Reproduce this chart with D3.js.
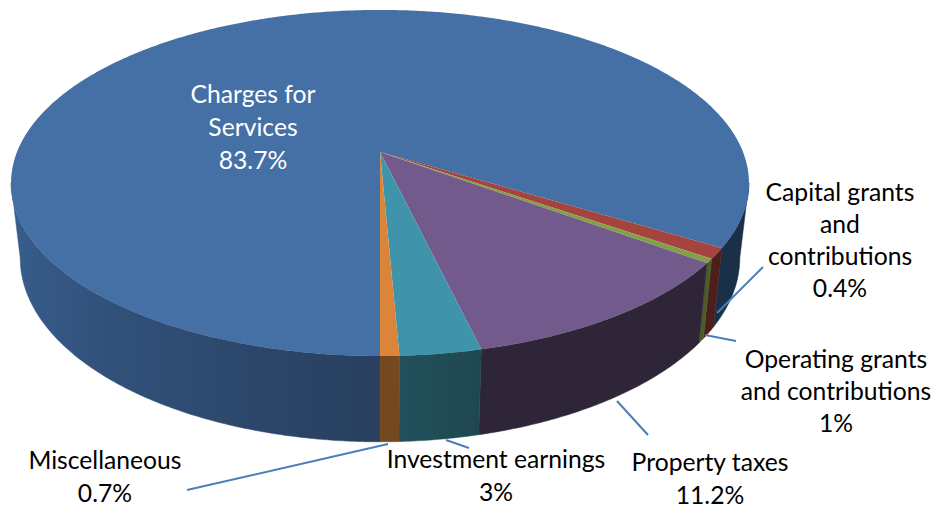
<!DOCTYPE html>
<html>
<head>
<meta charset="utf-8">
<script src="https://cdn.jsdelivr.net/npm/d3@7"></script>
<style>html,body{margin:0;padding:0;background:#fff}svg{display:block}text{font-family:Lato,sans-serif;font-size:24.7px;fill:#000;text-anchor:middle}</style>
</head>
<body>
<script>
// Data, in drawing order (clockwise from the front of the pie)
const categories = ["Charges for Services", "Operating grants and contributions", "Capital grants and contributions", "Property taxes", "Investment earnings", "Miscellaneous"];
const values = [83.7, 1, 0.4, 11.2, 3, 0.7];
const labelLines = [["Charges for", "Services"], ["Operating grants", "and contributions"], ["Capital grants", "and", "contributions"], ["Property taxes"], ["Investment earnings"], ["Miscellaneous"]];
const topColors = ["#4570a5", "#a5443f", "#82a044", "#735a8c", "#3f93ab", "#dc8439"];
const wallAngles = [[180, 210, 240, 275, 440, 481.3], [481, 486], [486, 487], [487, 527], [527, 538], [538, 540]];
const wallColors = [["#283f5f", "#2f4d74", "#365a87", "#3e699b", "#1a3049", "#1a3049"], ["#4b1f1c", "#4b1f1c"], ["#4a5c28", "#4a5c28"], ["#2e2539", "#2e2539"], ["#1f4751", "#23525c"], ["#744820", "#744820"]];
// Label layout: [centre x, first-line centre y, line step]
const labelPos = [[253, 95, 33], [836, 360, 32], [840, 193, 32], [710, 463, 33], [496, 460, 33], [105, 461, 33]];
const labelFill = ["#fff", "#000", "#000", "#000", "#000", "#000"];
const leaders = [null, [[705, 335], [736, 341]], [[717, 313], [763, 267]], [[617, 401], [648, 435]], [[446, 440], [469, 448]], [[388, 444], [187, 490]]];

const W = 937, H = 508, cx = 380;
const svg = d3.select("body").append("svg").attr("width", W).attr("height", H);
const defs = svg.append("defs");

// Perspective projection of a circular disc: Y grows toward the viewer
const k = 0.179;
const topFace = {A: 363, B: 167.5, c: 152};
const botFace = {A: 354, B: 178, c: 225};
function proj(face, t) {
  const X = Math.sin(t), Y = -Math.cos(t), w = 1 - k * Y;
  return [cx + face.A * X / w, face.c + face.B * Y / w];
}

const pie = d3.pie().sort(null).startAngle(Math.PI).endAngle(3 * Math.PI);
const arcs = pie(values);
const line = d3.line();
const deg = d3.scaleLinear().domain([0, 180]).range([0, Math.PI]);
const STEP = deg(0.5);
const rimPoints = (face, t0, t1) => {
  const n = Math.max(2, Math.ceil(Math.abs(t1 - t0) / STEP));
  return d3.range(n + 1).map(j => proj(face, t0 + (t1 - t0) * j / n));
};

// The wall is visible only between the two silhouette angles, where the disc's screen x is extreme
const silhouette = Math.acos(k);
const windows = [[Math.PI - silhouette, Math.PI + silhouette], [3 * Math.PI - silhouette, 3 * Math.PI + silhouette]];
const pieces = [];
arcs.forEach((a, i) => windows.forEach(([lo, hi]) => {
  const t0 = Math.max(a.startAngle, lo), t1 = Math.min(a.endAngle, hi);
  if (t1 > t0) pieces.push({i, t0, t1});
}));
const offset = d3.scaleLinear().domain([0, W]).range([0, 1]);
pieces.forEach((p, n) => {
  const color = d3.scaleLinear().domain(wallAngles[p.i]).range(wallColors[p.i]).interpolate(d3.interpolateRgb).clamp(true);
  const samples = d3.range(41).map(j => p.t0 + (p.t1 - p.t0) * j / 40);
  const stops = samples.map(t => ({x: proj(topFace, t)[0], c: color(deg.invert(t))})).sort((a, b) => a.x - b.x);
  const g = defs.append("linearGradient").attr("id", "wall" + n).attr("gradientUnits", "userSpaceOnUse")
    .attr("x1", 0).attr("y1", 0).attr("x2", W).attr("y2", 0);
  g.selectAll("stop").data(stops).join("stop").attr("offset", s => offset(s.x)).attr("stop-color", s => s.c);
  p.id = "wall" + n;
});
svg.append("g").selectAll("path").data(pieces).join("path")
  .attr("d", p => line([...rimPoints(topFace, p.t0, p.t1), ...rimPoints(botFace, p.t1, p.t0)]) + "Z")
  .attr("fill", p => `url(#${p.id})`)
  .attr("stroke", p => `url(#${p.id})`).attr("stroke-width", 0.5);

// Top face
const apex = [cx, topFace.c];
svg.append("g").selectAll("path").data(arcs).join("path")
  .attr("d", a => line([apex, ...rimPoints(topFace, a.startAngle, a.endAngle)]) + "Z")
  .attr("fill", (a, i) => topColors[i]);

// Leader lines
svg.append("g").selectAll("path").data(leaders.filter(Boolean)).join("path")
  .attr("d", d => line(d)).attr("fill", "none").attr("stroke", "#4a7ebb").attr("stroke-width", 2);

// Labels
categories.forEach((c, i) => {
  const [x, y, dy] = labelPos[i];
  const lines = [...labelLines[i], values[i] + "%"];
  const g = svg.append("text").attr("data-category", c).style("fill", labelFill[i]);
  lines.forEach((l, j) => g.append("tspan").attr("x", x).attr("y", y + j * dy + 8).text(l));
});
</script>
</body>
</html>
